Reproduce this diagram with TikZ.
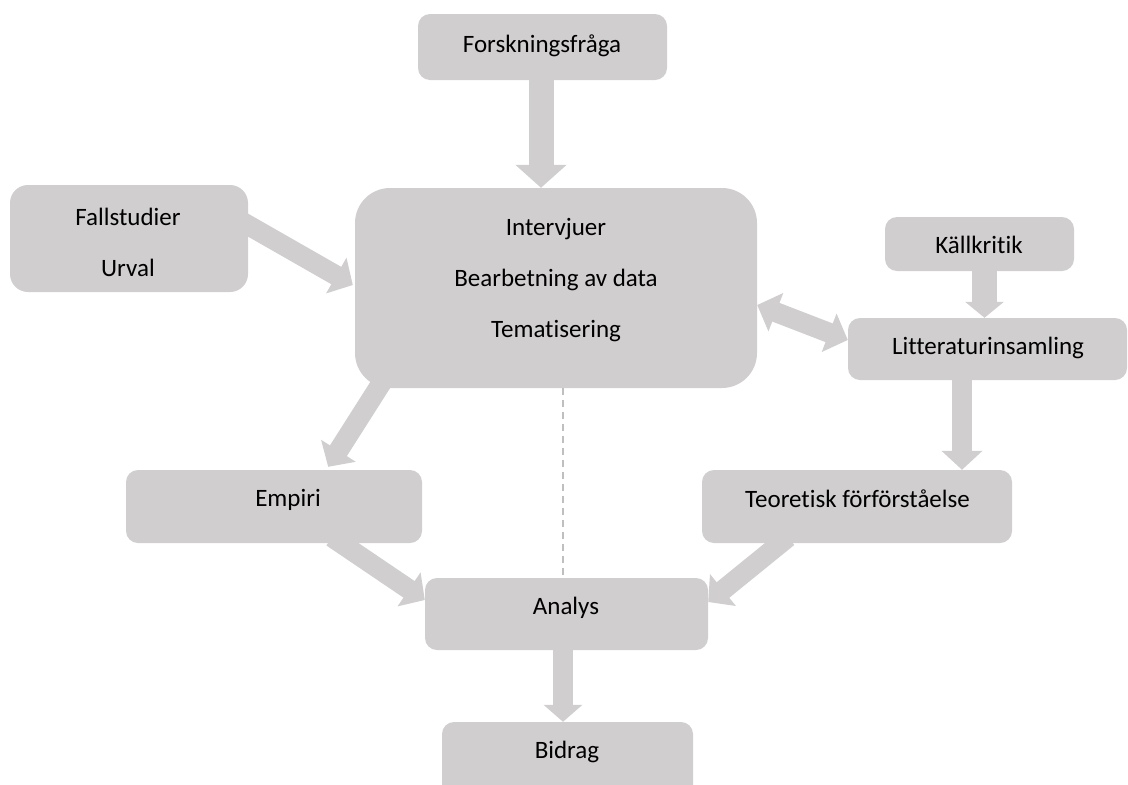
\documentclass[tikz,border=0pt]{standalone}
\usepackage{fontspec}
\setmainfont{Carlito}[Ligatures={NoCommon,NoContextual}, RawFeature={-liga;-clig;-dlig}]
\usetikzlibrary{arrows.meta,calc,backgrounds}
\definecolor{boxgray}{HTML}{D0CECE}
\definecolor{dashgray}{HTML}{BFBFBF}
\tikzset{
  box/.style={fill=boxgray, draw=none, rounded corners=12pt, inner sep=0pt},
  label text/.style={inner sep=0pt, align=center,
    font=\fontsize{25}{51}\selectfont, text=black},
  flowarrow/.style={draw=boxgray, line width=20pt,
    -{Triangle[width=40pt,length=19pt]}},
  widearrow/.style={draw=boxgray, line width=25pt,
    -{Triangle[width=50pt,length=23pt]}},
  bothways/.style={draw=boxgray, line width=20pt,
    {Triangle[width=40pt,length=20pt]}-{Triangle[width=40pt,length=20pt]}},
  guide/.style={draw=dashgray, line width=1.5pt, dash pattern=on 7pt off 5pt}
}
\begin{document}
\begin{tikzpicture}[x=1pt,y=-1pt]
\useasboundingbox (0,0) rectangle (1128,785);
\clip (0,0) rectangle (1128,785);

% process boxes
\node[box, minimum width=249pt, minimum height=66pt] (forsk) at (542.5,47) {};
\node[box, minimum width=402pt, minimum height=200pt, rounded corners=35pt] (mid) at (556,288) {};
\node[box, minimum width=238pt, minimum height=107pt, rounded corners=18pt] (fall) at (129,238.5) {};
\node[box, minimum width=189pt, minimum height=54pt] (kall) at (979.5,244) {};
\node[box, minimum width=279pt, minimum height=62pt] (lit) at (987.5,349) {};
\node[box, minimum width=296pt, minimum height=73pt] (empiri) at (274,506.5) {};
\node[box, minimum width=310pt, minimum height=73pt] (teor) at (857,506.5) {};
\node[box, minimum width=283pt, minimum height=72pt] (analys) at (566.5,614) {};
\node[box, minimum width=251pt, minimum height=78pt] (bidrag) at (567.5,761) {};

% box texts
\node[label text] (forsk-t) at (542,46) {Forskningsfråga};
\node[label text] (mid-t) at (556,280) {Intervjuer\\Bearbetning av data\\Tematisering};
\node[label text] (fall-t) at (128,242) {Fallstudier\\Urval};
\node[label text] (kall-t) at (979,245) {Källkritik};
\node[label text] (lit-t) at (988,348) {Litteraturinsamling};
\node[label text] (empiri-t) at (288,500) {Empiri};
\node[label text] (teor-t) at (857.5,499) {Teoretisk förförståelse};
\node[label text] (analys-t) at (566,608) {Analys};
\node[label text] (bidrag-t) at (567,752) {Bidrag};

% connectors, kept behind the boxes
\begin{scope}[on background layer]
  \draw[widearrow] (forsk.south) ++(-1.5,0) coordinate (fq) -- (fq |- mid.north);
  \draw[flowarrow] ($(fall.east)+(-10,-19)$) -- ($(mid.west)+(-2,-3)$);
  \draw[widearrow, -{Triangle[width=38pt,length=16pt]}] ($(kall.south)+(5,0)$) coordinate (kq) -- (kq |- lit.north);
  \draw[bothways] ($(mid.east)+(0,17)$) -- ($(lit.west)+(0,-9)$);
  \draw[flowarrow] ($(mid.south west)+(31,-12)$) -- ($(empiri.north east)+(-94,-3)$);
  \draw[flowarrow] ($(lit.south)+(-25.5,0)$) coordinate (lq) -- (lq |- teor.north);
  \draw[flowarrow] ($(empiri.south)+(58,-6)$) -- ($(analys.west)+(0,-14)$);
  \draw[flowarrow] ($(teor.south)+(-69,-6)$) -- ($(analys.east)+(0,-12)$);
  \draw[flowarrow, -{Triangle[width=38pt,length=17pt]}] ($(analys.south)+(-3.5,0)$) coordinate (aq) -- (aq |- bidrag.north);
  \draw[guide] ($(mid.south)+(7,0)$) coordinate (dq) -- (dq |- analys.north);
\end{scope}
\end{tikzpicture}
\end{document}
